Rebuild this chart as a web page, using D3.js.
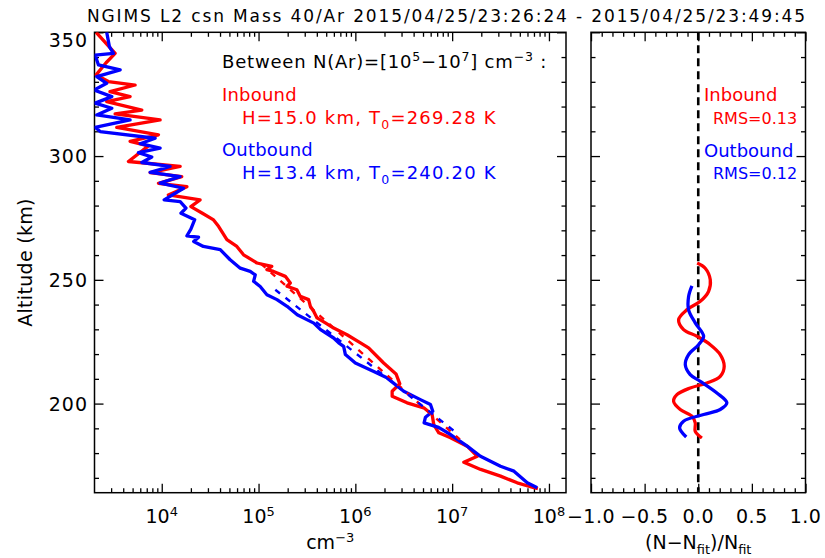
<!DOCTYPE html>
<html><head><meta charset="utf-8">
<script src="https://cdn.jsdelivr.net/npm/d3@7"></script>
<style>
body{margin:0;background:#fff}
text{font-family:"DejaVu Sans",sans-serif;}
</style>
</head><body>
<svg id="c" width="825" height="558"></svg>
<script>
const titleText = "NGIMS L2 csn Mass 40/Ar 2015/04/25/23:26:24 - 2015/04/25/23:49:45";

// Inbound (red) density profile: altitude (km), density (cm^-3)
const inAlt = [350.0,341.5,337.7,332.8,330.1,328.7,326.0,324.0,322.0,318.6,317.0,314.6,311.6,308.6,305.9,304.1,297.8,295.8,293.3,291.7,289.0,287.6,284.3,282.3,279.6,276.9,274.2,271.6,266.2,263.5,260.1,256.8,255.4,254.1,253.4,251.4,248.7,247.4,246.0,243.3,242.0,239.3,237.3,234.6,232.6,230.5,227.8,224.5,222.5,216.4,212.0,208.0,205.0,203.0,200.3,198.3,195.6,191.5,188.2,186.2,182.8,178.7,176.3,173.4,170.7,168.0,166.0,165.6];
const inDens = [2.10e3,3.30e3,2.66e3,2.10e3,2.81e3,5.31e3,2.92e3,4.71e3,2.70e3,6.22e3,3.30e3,9.62e3,3.43e3,9.25e3,4.71e3,7.29e3,4.53e3,1.55e4,7.59e3,1.61e4,9.25e3,1.82e4,1.17e4,2.49e4,2.00e4,2.63e4,3.43e4,3.86e4,4.71e4,5.97e4,7.00e4,9.62e4,1.37e5,1.22e5,1.43e5,1.89e5,2.13e5,1.97e5,2.49e5,2.70e5,3.29e5,3.43e5,3.71e5,4.02e5,4.90e5,5.97e5,8.20e5,1.13e6,1.37e6,1.96e6,2.63e6,2.88e6,2.40e6,2.40e6,3.42e6,5.09e6,6.21e6,6.46e6,7.28e6,9.62e6,1.43e7,1.82e7,1.32e7,1.97e7,3.16e7,4.70e7,7.00e7,7.69e7];

// Outbound (blue) density profile
const outAlt = [350.0,344.2,341.5,340.8,336.8,334.8,332.1,329.4,326.7,324.0,321.4,319.3,316.6,314.6,311.6,309.9,307.2,305.0,303.2,301.4,299.6,297.4,295.8,293.4,291.7,289.1,287.0,282.3,281.6,279.0,276.9,274.3,270.5,267.8,267.2,265.5,263.5,262.2,258.1,254.7,253.4,252.0,249.4,247.3,244.0,242.0,239.3,235.9,232.5,229.9,226.5,224.5,223.1,219.8,216.4,213.0,210.4,205.0,201.6,199.6,196.9,194.5,192.2,190.4,187.5,182.8,178.7,174.7,172.7,168.0,166.0];
const outDens = [2.70e3,2.88e3,3.17e3,2.05e3,2.22e3,3.72e3,2.13e3,2.70e3,2.00e3,3.05e3,2.05e3,3.05e3,2.13e3,4.71e3,2.05e3,2.31e3,8.55e3,5.98e3,9.62e3,5.74e3,7.89e3,6.22e3,1.22e4,7.59e3,1.55e4,9.62e3,1.68e4,1.06e4,1.55e4,1.78e4,1.58e4,2.19e4,2.00e4,1.82e4,2.40e4,2.14e4,2.69e4,4.02e4,5.09e4,6.47e4,8.20e4,9.25e4,8.89e4,1.04e5,1.22e5,1.55e5,1.97e5,2.51e5,3.72e5,4.37e5,5.97e5,6.73e5,7.57e5,7.89e5,1.00e6,1.55e6,2.12e6,3.16e6,4.70e6,5.97e6,6.31e6,5.30e6,5.13e6,7.24e6,9.62e6,1.43e7,1.96e7,3.16e7,4.35e7,5.97e7,7.57e7];

// Fits (dashed), endpoints
const inFitAlt = [256.5, 185.5];
const inFitDens = [1.06e5, 1.20e7];
const outFitAlt = [246.0, 187.9];
const outFitDens = [1.49e5, 1.13e7];

// Residuals (N-Nfit)/Nfit
const inResAlt = [256.8,254.7,250.0,245.3,241.3,237.9,233.9,229.9,227.2,223.8,219.8,215.1,211.0,208.3,206.3,203.6,200.9,197.6,194.9,192.2,188.8,186.1];
const inRes = [-0.01,0.065,0.112,0.096,0.019,-0.106,-0.183,-0.137,-0.012,0.112,0.205,0.242,0.205,0.081,-0.075,-0.199,-0.230,-0.168,-0.059,-0.028,-0.028,0.034];
const outResAlt = [247.6,243.3,237.9,232.6,227.2,223.8,219.8,215.7,211.7,209.0,204.3,200.3,197.6,195.6,192.9,190.2,186.5];
const outRes = [-0.059,-0.090,-0.090,-0.028,0.050,0.003,-0.090,-0.121,-0.075,0.019,0.174,0.267,0.205,0.050,-0.137,-0.174,-0.112];

// Ticks
const altDomain = [164, 350];
const altMajor = [200, 250, 300, 350];
const altMinor = [170,180,190,210,220,230,240,260,270,280,290,310,320,330,340];
const densDomain = [2.02e3, 1.5e8];
const densMajorExp = [4, 5, 6, 7, 8];
const densMajor = [1e4, 1e5, 1e6, 1e7, 1e8];
const resDomain = [-1, 1];
const resMajor = [-1, -0.5, 0, 0.5, 1];
const resLabels = ["\u22121.0", "\u22120.5", "0.0", "0.5", "1.0"];

const RED = "#ff0000", BLUE = "#0000ff";
const svg = d3.select("#c");

const L = {x0: 94.5, x1: 566, y0: 32.3, y1: 492.7};
const R = {x0: 591, x1: 805.5};

const y = d3.scaleLinear().domain(altDomain).range([L.y1, L.y0]);
const xL = d3.scaleLog().domain(densDomain).range([L.x0, L.x1]);
const xR = d3.scaleLinear().domain(resDomain).range([R.x0, R.x1]);

const densMinor = [];
for (let e = 3; e <= 8; e++) for (let m = 2; m <= 9; m++) {
  const v = m * Math.pow(10, e);
  if (v > densDomain[0] && v < densDomain[1]) densMinor.push(v);
}
const resMinor = d3.range(-9, 10).map(i => i / 10).filter(v => !resMajor.some(m => Math.abs(m - v) < 1e-9));

const defs = svg.append("defs");
defs.append("clipPath").attr("id", "clipL").append("rect")
  .attr("x", L.x0).attr("y", L.y0).attr("width", L.x1 - L.x0).attr("height", L.y1 - L.y0);
defs.append("clipPath").attr("id", "clipR").append("rect")
  .attr("x", R.x0).attr("y", L.y0).attr("width", R.x1 - R.x0).attr("height", L.y1 - L.y0);

function axisGroup(axis, tx, ty) {
  const g = svg.append("g").attr("transform", `translate(${tx},${ty})`).call(axis);
  g.select(".domain").remove();
  g.selectAll("line").attr("stroke", "#000").attr("stroke-width", 1.3);
  g.selectAll("text").remove();
  return g;
}

const MAJ = 9, MIN = 4.5;
const dMaj = densMajor.filter(v => v < densDomain[1]);
axisGroup(d3.axisBottom(xL).tickValues(dMaj).tickSize(-MAJ).tickFormat(""), 0, L.y1);
axisGroup(d3.axisBottom(xL).tickValues(densMinor).tickSize(-MIN).tickFormat(""), 0, L.y1);
axisGroup(d3.axisTop(xL).tickValues(dMaj).tickSize(-MAJ).tickFormat(""), 0, L.y0);
axisGroup(d3.axisTop(xL).tickValues(densMinor).tickSize(-MIN).tickFormat(""), 0, L.y0);
axisGroup(d3.axisLeft(y).tickValues(altMajor).tickSize(-MAJ).tickFormat(""), L.x0, 0);
axisGroup(d3.axisLeft(y).tickValues(altMinor).tickSize(-MIN).tickFormat(""), L.x0, 0);
axisGroup(d3.axisRight(y).tickValues(altMajor).tickSize(-MAJ).tickFormat(""), L.x1, 0);
axisGroup(d3.axisRight(y).tickValues(altMinor).tickSize(-MIN).tickFormat(""), L.x1, 0);
axisGroup(d3.axisBottom(xR).tickValues(resMajor).tickSize(-MAJ).tickFormat(""), 0, L.y1);
axisGroup(d3.axisBottom(xR).tickValues(resMinor).tickSize(-MIN).tickFormat(""), 0, L.y1);
axisGroup(d3.axisTop(xR).tickValues(resMajor).tickSize(-MAJ).tickFormat(""), 0, L.y0);
axisGroup(d3.axisTop(xR).tickValues(resMinor).tickSize(-MIN).tickFormat(""), 0, L.y0);
axisGroup(d3.axisLeft(y).tickValues(altMajor).tickSize(-MAJ).tickFormat(""), R.x0, 0);
axisGroup(d3.axisLeft(y).tickValues(altMinor).tickSize(-MIN).tickFormat(""), R.x0, 0);
axisGroup(d3.axisRight(y).tickValues(altMajor).tickSize(-MAJ).tickFormat(""), R.x1, 0);
axisGroup(d3.axisRight(y).tickValues(altMinor).tickSize(-MIN).tickFormat(""), R.x1, 0);

svg.append("rect").attr("x", L.x0).attr("y", L.y0).attr("width", L.x1 - L.x0).attr("height", L.y1 - L.y0)
  .attr("fill", "none").attr("stroke", "#000").attr("stroke-width", 1.5);
svg.append("rect").attr("x", R.x0).attr("y", L.y0).attr("width", R.x1 - R.x0).attr("height", L.y1 - L.y0)
  .attr("fill", "none").attr("stroke", "#000").attr("stroke-width", 1.5);

// Left panel lines
const lineL = d3.line().x(d => xL(d[1])).y(d => y(d[0]));
const gL = svg.append("g").attr("clip-path", "url(#clipL)");
function drawL(alts, dens, color, dash, w) {
  gL.append("path").datum(alts.map((a, i) => [a, dens[i]]))
    .attr("d", lineL).attr("fill", "none").attr("stroke", color).attr("stroke-width", w)
    .attr("stroke-linejoin", "round").attr("stroke-dasharray", dash || null);
}
drawL(inAlt, inDens, RED, null, 3.3);
drawL(outAlt, outDens, BLUE, null, 3.3);
drawL(inFitAlt, inFitDens, RED, "6,7", 2.4);
drawL(outFitAlt, outFitDens, BLUE, "6,7", 2.4);

// Right panel
const gR = svg.append("g").attr("clip-path", "url(#clipR)");
gR.append("line").attr("x1", xR(0)).attr("x2", xR(0)).attr("y1", L.y0).attr("y2", L.y1)
  .attr("stroke", "#000").attr("stroke-width", 2.6).attr("stroke-dasharray", "8,5");
const lineR = d3.line().x(d => xR(d[1])).y(d => y(d[0])).curve(d3.curveCatmullRom);
gR.append("path").datum(inResAlt.map((a, i) => [a, inRes[i]])).attr("d", lineR)
  .attr("fill", "none").attr("stroke", RED).attr("stroke-width", 3.3);
gR.append("path").datum(outResAlt.map((a, i) => [a, outRes[i]])).attr("d", lineR)
  .attr("fill", "none").attr("stroke", BLUE).attr("stroke-width", 3.3);

// Title
svg.append("text").attr("x", 446).attr("y", 22).attr("text-anchor", "middle")
  .attr("font-size", 17).attr("textLength", 718).attr("lengthAdjust", "spacing").text(titleText);

// Y tick labels
altMajor.forEach(v => {
  svg.append("text").attr("x", 88).attr("y", Math.max(y(v) + 7, 46.5))
    .attr("text-anchor", "end").attr("font-size", 19).attr("letter-spacing", 1).text(v);
});

// X tick labels
densMajor.forEach((v, i) => {
  const t = svg.append("text").attr("x", xL(v)).attr("y", 523).attr("text-anchor", "middle").attr("font-size", 19);
  t.append("tspan").text("10");
  t.append("tspan").attr("dy", -7.5).attr("font-size", 13).text(densMajorExp[i]);
});
resMajor.forEach((v, i) => {
  svg.append("text").attr("x", xR(v)).attr("y", 523).attr("text-anchor", "middle").attr("font-size", 19)
    .attr("letter-spacing", 0.5).text(resLabels[i]);
});

// Axis titles
const cmT = svg.append("text").attr("x", (L.x0 + L.x1) / 2).attr("y", 549).attr("text-anchor", "middle").attr("font-size", 19);
cmT.append("tspan").text("cm");
cmT.append("tspan").attr("dy", -7.5).attr("font-size", 13).text("\u22123");

const rT = svg.append("text").attr("x", xR(0)).attr("y", 549).attr("text-anchor", "middle").attr("font-size", 19);
rT.append("tspan").text("(N\u2212N");
rT.append("tspan").attr("dy", 5).attr("font-size", 13).text("fit");
rT.append("tspan").attr("dy", -5).text(")/N");
rT.append("tspan").attr("dy", 5).attr("font-size", 13).text("fit");

svg.append("text").attr("transform", `translate(32,${(L.y0 + L.y1) / 2}) rotate(-90)`)
  .attr("text-anchor", "middle").attr("font-size", 19).attr("letter-spacing", 0.3).text("Altitude (km)");

// Legend left
const lg = svg.append("text").attr("x", 222).attr("y", 68).attr("font-size", 18).attr("letter-spacing", 0.8);
lg.append("tspan").text("Between N(Ar)=[10");
lg.append("tspan").attr("dy", -7).attr("font-size", 12.5).text("5");
lg.append("tspan").attr("dy", 7).text("\u221210");
lg.append("tspan").attr("dy", -7).attr("font-size", 12.5).text("7");
lg.append("tspan").attr("dy", 7).text("] cm");
lg.append("tspan").attr("dy", -7).attr("font-size", 12.5).text("\u22123");
lg.append("tspan").attr("dy", 7).text(" :");

svg.append("text").attr("x", 222).attr("y", 101).attr("font-size", 18).attr("letter-spacing", 0.2).attr("fill", RED).text("Inbound");
function hLine(x, yy, color, h, t0) {
  const t = svg.append("text").attr("x", x).attr("y", yy).attr("font-size", 18).attr("letter-spacing", 1.2).attr("fill", color);
  t.append("tspan").text(`H=${h} km, T`);
  t.append("tspan").attr("dy", 5).attr("font-size", 12.5).text("0");
  t.append("tspan").attr("dy", -5).text(`=${t0} K`);
}
hLine(242, 123.5, RED, "15.0", "269.28");
svg.append("text").attr("x", 222).attr("y", 155.5).attr("font-size", 18).attr("letter-spacing", 0.2).attr("fill", BLUE).text("Outbound");
hLine(242, 178.5, BLUE, "13.4", "240.20");

// Legend right
svg.append("text").attr("x", 704).attr("y", 101).attr("font-size", 18).attr("fill", RED).text("Inbound");
svg.append("text").attr("x", 713).attr("y", 124).attr("font-size", 16).attr("fill", RED).text("RMS=0.13");
svg.append("text").attr("x", 704).attr("y", 157).attr("font-size", 18).attr("fill", BLUE).text("Outbound");
svg.append("text").attr("x", 713).attr("y", 179).attr("font-size", 16).attr("fill", BLUE).text("RMS=0.12");
</script>
</body></html>
